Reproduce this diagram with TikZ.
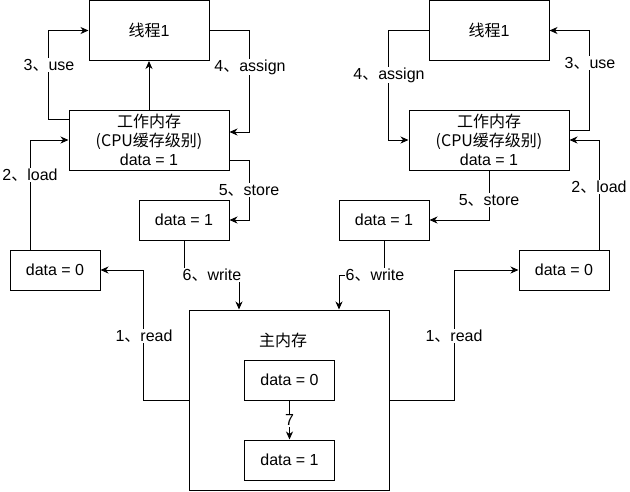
\documentclass[tikz,border=0pt]{standalone}
\usepackage{fontspec}
\setmainfont{Liberation Sans}
\newfontfamily\cjk{Noto Sans CJK SC}
\usetikzlibrary{arrows.meta}
\newcommand\zh[1]{{\cjk #1}}
\begin{document}
\begin{tikzpicture}[x=1pt,y=-1pt,
  txt/.style={font=\fontsize{16}{19}\selectfont},
  box/.style={txt,draw,line width=1pt,inner sep=0pt,align=center},
  bigbox/.style={box,minimum width=120pt,minimum height=60pt},
  wmbox/.style={box,minimum width=160pt,minimum height=60pt},
  valbox/.style={box,minimum width=90pt,minimum height=40pt},
  arr/.style={line width=1pt,-{Stealth[length=8pt,width=7pt,inset=2.5pt]}},
  lab/.style={txt,fill=white,inner sep=1pt}]
\useasboundingbox (0,0) rectangle (630,491);
% left side
\node[bigbox] (T1) at (149,30.5) {\zh{线程}1};
\node[wmbox] (L) at (149,140) {\zh{工作内存}\\\zh{(CPU缓存级别)}\\data = 1};
\node[valbox] (LD) at (184,220) {data = 1};
\node[valbox] (LZ) at (55,270) {data = 0};
% main memory
\node[box,minimum width=200pt,minimum height=180pt] (M) at (289,400) {};
\node[txt] (Mlab) at (283,340) {\zh{主内存}};
\node[valbox] (MZ) at (289.5,380) {data = 0};
\node[valbox] (MO) at (289.5,460) {data = 1};
% right side
\node[bigbox] (RT) at (489,30.5) {\zh{线程}1};
\node[wmbox] (RW) at (489,140) {\zh{工作内存}\\\zh{(CPU缓存级别)}\\data = 1};
\node[valbox] (RD) at (384,220) {data = 1};
\node[valbox] (RZ) at (564,270) {data = 0};
% left connectors
\draw[arr] ([yshift=-10pt]L.north west) -- ++(-20,0) |- (T1.west);
\draw[arr] (L.north) -- (T1.south);
\draw[arr] (T1.east) -- ++(40,0) |- ([yshift=8pt]L.east);
\draw[arr] ([xshift=-25pt]LZ.north) |- (L.west);
\draw[arr] ([yshift=10pt]L.south east) -- ++(20,0) |- (LD.east);
\draw[arr] (LD.south) -- ++(0,35) -| ([xshift=-50pt]M.north);
\draw[arr] (M.west) -- ++(-45,0) |- (LZ.east);
\draw[arr] (MZ.south) -- (MO.north);
% right connectors
\draw[arr] (RT.west) -- ++(-40,0) |- (RW.west);
\draw[arr] ([yshift=10pt]RW.east) -- ++(20,0) |- (RT.east);
\draw[arr] ([xshift=35pt]RZ.north) |- (RW.east);
\draw[arr] (RW.south) |- (RD.east);
\draw[arr] (RD.south) -- ++(0,35) -| ([xshift=50pt]M.north);
\draw[arr] (M.east) -- ++(65,0) |- (RZ.west);
% labels
\node[lab] (l3) at (49,65) {3\zh{、}use};
\node[lab] (l4) at (250,67) {4\zh{、}assign};
\node[lab] (l2) at (30,175) {2\zh{、}load};
\node[lab] (l5) at (249,190) {5\zh{、}store};
\node[lab] (l6) at (212,275) {6\zh{、}write};
\node[lab] (l1) at (144,336) {1\zh{、}read};
\node[lab] (r4) at (389,75) {4\zh{、}assign};
\node[lab] (r3) at (590,63) {3\zh{、}use};
\node[lab] (r2) at (599,187) {2\zh{、}load};
\node[lab] (r5) at (489,200) {5\zh{、}store};
\node[lab] (r6) at (375,275) {6\zh{、}write};
\node[lab] (r1) at (454,336) {1\zh{、}read};
\node[lab] (l7) at (289.5,420) {7};
\end{tikzpicture}
\end{document}
